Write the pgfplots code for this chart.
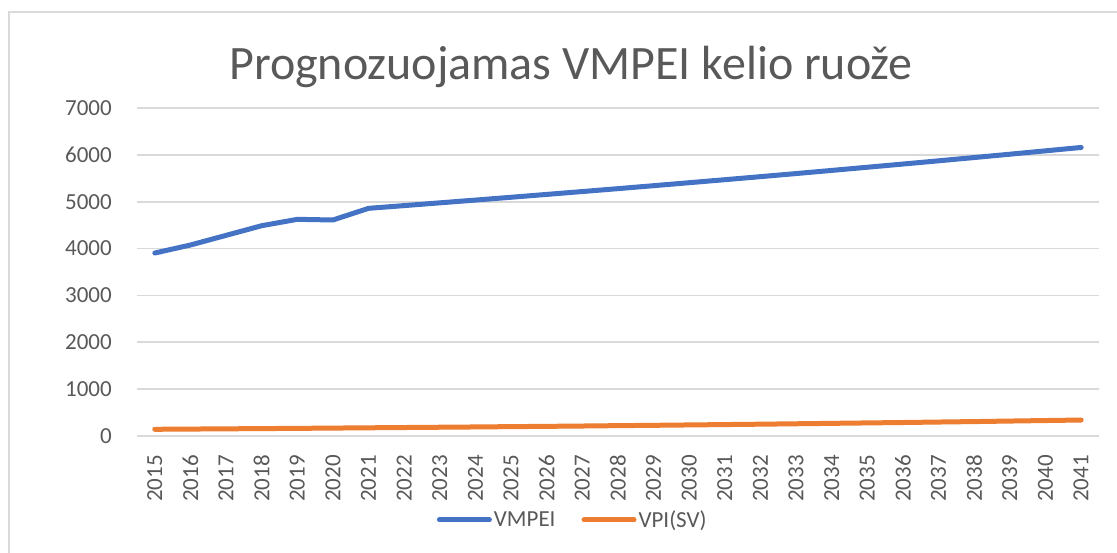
\documentclass[border=0pt]{standalone}
\usepackage{fontspec}
\setmainfont{Carlito}
\usepackage{pgfplots}
\pgfplotsset{compat=1.18}
\definecolor{txt}{HTML}{595959}
\definecolor{gridc}{HTML}{D9D9D9}
\definecolor{cblue}{HTML}{4472C4}
\definecolor{corange}{HTML}{ED7D31}
\begin{document}
\begin{tikzpicture}
\useasboundingbox (0pt,0pt) rectangle (1117pt,552pt);
\draw[gridc, line width=1.5pt] (9pt,-5pt) -- (9pt,540pt) -- (1125pt,540pt);
\node[anchor=base, text=txt, font=\fontsize{48}{54}\selectfont] at (571pt,472pt) {Prognozuojamas VMPEI kelio ruože};
\begin{axis}[
  at={(137pt,116pt)}, anchor=south west,
  scale only axis, width=962pt, height=328pt,
  xmin=2014.5, xmax=2041.5, ymin=0, ymax=7000,
  xtick={2015,...,2041}, ytick={0,1000,...,7000},
  axis line style={draw=none},
  major tick length=0pt,
  xmajorgrids=false, ymajorgrids=true, grid style={draw=gridc, line width=1.6pt},
  /pgf/number format/assume math mode=true,
  /pgf/number format/1000 sep={},
  x tick label style={rotate=90, anchor=east, inner sep=0pt, xshift=-19pt, text=txt, font=\fontsize{23}{27}\selectfont},
  y tick label style={anchor=east, inner sep=0pt, xshift=-25pt, text=txt, font=\fontsize{23}{27}\selectfont},
  legend columns=2,
  legend style={at={(0.453,-0.256)}, anchor=center, draw=none, fill=none, font=\fontsize{23}{27}\selectfont, text=txt,
    /tikz/every even column/.append style={column sep=24pt}},
  legend image code/.code={\draw[#1, line width=5pt, line cap=round] (0pt,0pt) -- (50pt,0pt);},
  clip=false,
]
\addplot[cblue, line width=5pt, line cap=round, line join=round] coordinates {
(2015,3905) (2016,4076) (2017,4282) (2018,4488) (2019,4624) (2020,4610) (2021,4859)
(2022,4917) (2023,4976) (2024,5035) (2025,5095) (2026,5156) (2027,5217) (2028,5279)
(2029,5342) (2030,5406) (2031,5470) (2032,5535) (2033,5601) (2034,5668) (2035,5736)
(2036,5804) (2037,5873) (2038,5943) (2039,6014) (2040,6086) (2041,6158)};
\addlegendentry{VMPEI}
\addplot[corange, line width=5pt, line cap=round, line join=round] coordinates {
(2015,143) (2016,148) (2017,153) (2018,158) (2019,163) (2020,169) (2021,175)
(2022,181) (2023,187) (2024,193) (2025,200) (2026,206) (2027,213) (2028,221)
(2029,228) (2030,236) (2031,244) (2032,252) (2033,261) (2034,270) (2035,279)
(2036,288) (2037,298) (2038,308) (2039,319) (2040,330) (2041,341)};
\addlegendentry{VPI(SV)}
\end{axis}
\end{tikzpicture}
\end{document}
